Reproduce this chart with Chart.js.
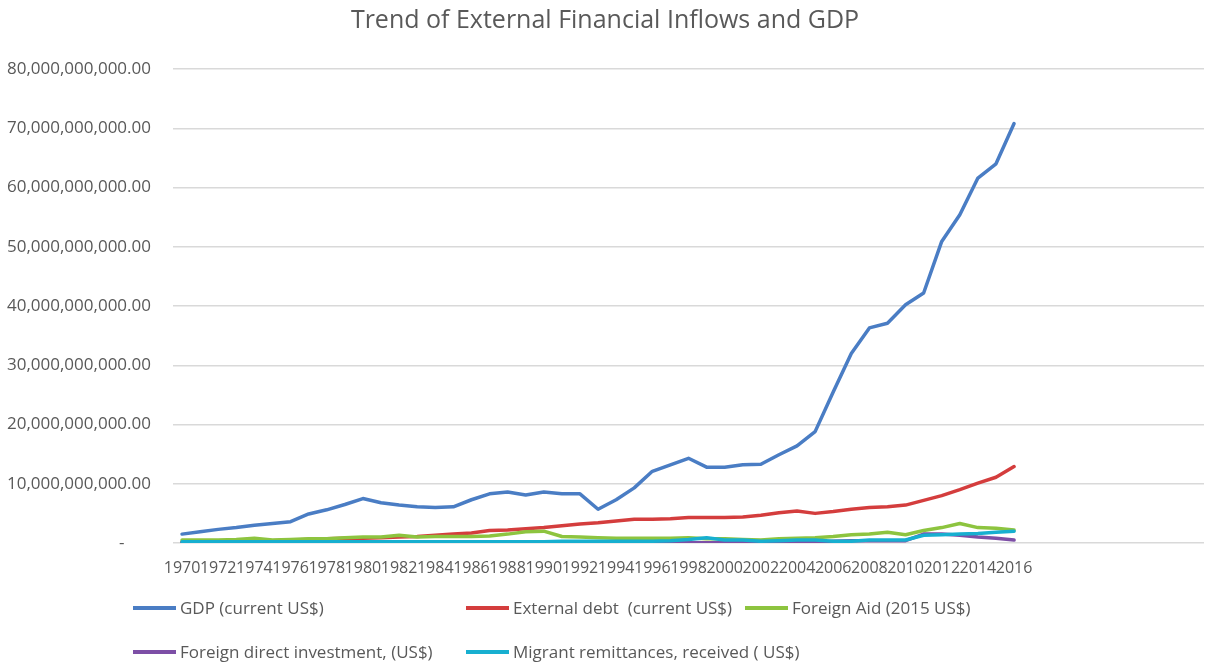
<!DOCTYPE html>
<html>
<head>
<meta charset="utf-8">
<script src="https://cdn.jsdelivr.net/npm/chart.js@4.4.1/dist/chart.umd.min.js"></script>
<style>
  html, body { margin: 0; padding: 0; background: #fff; }
  #wrap { position: relative; width: 1225px; height: 664px; }
  #legend { position: absolute; left: 0; top: 0; width: 1225px; height: 664px; pointer-events: none;
    font-family: "Open Sans", sans-serif; font-size: 17px; color: #595959; }
  .item { position: absolute; display: flex; align-items: center; white-space: pre; }
  .swatch { width: 43px; height: 4px; margin-right: 4px; }
</style>
</head>
<body>
<div id="wrap">
  <canvas id="chart" width="1225" height="664"></canvas>
  <div id="legend"></div>
</div>
<script>
/* ===== DATA (billions of US$) ===== */
const years = [
  "1970","1971","1972","1973","1974","1975","1976","1977","1978","1979",
  "1980","1981","1982","1983","1984","1985","1986","1987","1988","1989",
  "1990","1991","1992","1993","1994","1995","1996","1997","1998","1999",
  "2000","2001","2002","2003","2004","2005","2006","2007","2008","2009",
  "2010","2011","2012","2013","2014","2015","2016"
];
// empty categories Excel left on the axis after 2016
const blankYears = ["","","","","","","","","",""];

const gdp = [
  1.5, 1.9, 2.3, 2.6, 3.0, 3.3, 3.6, 4.9, 5.6, 6.5,
  7.5, 6.8, 6.4, 6.1, 6.0, 6.1, 7.3, 8.3, 8.6, 8.1,
  8.6, 8.3, 8.3, 5.7, 7.3, 9.3, 12.1, 13.2, 14.3, 12.8,
  12.8, 13.2, 13.3, 14.9, 16.4, 18.8, 25.5, 32.0, 36.3, 37.1,
  40.2, 42.2, 50.9, 55.4, 61.6, 64.0, 70.8
];
const externalDebt = [
  0.2, 0.2, 0.2, 0.3, 0.3, 0.4, 0.5, 0.6, 0.7, 0.8,
  0.8, 0.9, 1.0, 1.1, 1.3, 1.5, 1.7, 2.1, 2.2, 2.4,
  2.6, 2.9, 3.2, 3.4, 3.7, 4.0, 4.0, 4.1, 4.3, 4.3,
  4.3, 4.4, 4.7, 5.1, 5.4, 5.0, 5.3, 5.7, 6.0, 6.1,
  6.4, 7.2, 8.0, 9.0, 10.1, 11.1, 12.9
];
const foreignAid = [
  0.5, 0.5, 0.5, 0.6, 0.8, 0.5, 0.6, 0.7, 0.7, 0.9,
  1.0, 1.0, 1.3, 1.0, 1.1, 1.1, 1.1, 1.2, 1.5, 1.9,
  2.0, 1.1, 1.0, 0.9, 0.8, 0.8, 0.8, 0.8, 0.9, 0.7,
  0.7, 0.6, 0.5, 0.7, 0.8, 0.9, 1.1, 1.4, 1.5, 1.8,
  1.4, 2.1, 2.6, 3.3, 2.6, 2.5, 2.2
];
const fdi = [
  0.05, 0.05, 0.05, 0.05, 0.05, 0.05, 0.05, 0.05, 0.05, 0.05,
  0.05, 0.05, 0.05, 0.05, 0.05, 0.05, 0.05, 0.05, 0.05, 0.05,
  0.05, 0.05, 0.05, 0.05, 0.05, 0.05, 0.05, 0.05, 0.05, 0.05,
  0.05, 0.05, 0.05, 0.05, 0.1, 0.1, 0.3, 0.4, 0.4, 0.4,
  0.4, 1.5, 1.5, 1.3, 1.0, 0.8, 0.5
];
const remittances = [
  0.2, 0.2, 0.2, 0.2, 0.2, 0.2, 0.2, 0.2, 0.2, 0.2,
  0.2, 0.2, 0.2, 0.2, 0.2, 0.2, 0.2, 0.2, 0.2, 0.2,
  0.2, 0.3, 0.3, 0.3, 0.3, 0.3, 0.3, 0.4, 0.6, 0.9,
  0.5, 0.5, 0.3, 0.4, 0.5, 0.5, 0.3, 0.3, 0.5, 0.5,
  0.5, 1.3, 1.4, 1.5, 1.6, 1.8, 2.0
];

const seriesNames = [
  "GDP (current US$)",
  "External debt  (current US$)",
  "Foreign Aid (2015 US$)",
  "Foreign direct investment, (US$)",
  "Migrant remittances, received ( US$)"
];
const seriesColors = ["#4a7dc4", "#d43d3d", "#8dc43f", "#7d4fa6", "#17afd0"];
const seriesData = [gdp, externalDebt, foreignAid, fdi, remittances];

const BILLION = 1e9;
const FONT = "'Open Sans', sans-serif";

/* ===== CHART ===== */
const datasets = seriesData.map((arr, i) => ({
  label: seriesNames[i],
  data: arr.map(v => v * BILLION),
  borderColor: seriesColors[i],
  backgroundColor: seriesColors[i],
  borderWidth: 3.5,
  pointRadius: 0,
  tension: 0,
  borderJoinStyle: "round",
  borderCapStyle: "round",
  order: seriesData.length - i
}));

new Chart(document.getElementById("chart"), {
  type: "line",
  data: { labels: years.concat(blankYears), datasets: datasets },
  options: {
    responsive: false,
    animation: false,
    layout: { padding: { left: 6, right: 21, top: 0, bottom: 91 } },
    plugins: {
      legend: { display: false },
      tooltip: { enabled: false },
      title: {
        display: true,
        text: "Trend of External Financial Inflows and GDP",
        color: "#595959",
        font: { family: FONT, size: 25, weight: "normal" },
        padding: { top: 6, bottom: 33 }
      }
    },
    scales: {
      x: {
        type: "category",
        offset: true,
        grid: { display: false },
        border: { display: false },
        afterFit: s => { s.height = 30; },
        ticks: {
          autoSkip: false,
          maxRotation: 0,
          minRotation: 0,
          padding: 8,
          color: "#595959",
          font: { family: FONT, size: 16 },
          callback: function (val, idx) {
            const lab = this.getLabelForValue(val);
            return (idx % 2 === 0) ? lab : "";
          }
        }
      },
      y: {
        min: 0,
        max: 80 * BILLION,
        afterFit: s => { s.width = 167; },
        grid: { color: "#d9d9d9", lineWidth: 1.5, drawTicks: false },
        border: { display: false },
        ticks: {
          stepSize: 10 * BILLION,
          padding: 22,
          color: "#595959",
          font: { family: FONT, size: 17 },
          callback: v => v === 0 ? "-      " :
            v.toLocaleString("en-US", { minimumFractionDigits: 2, maximumFractionDigits: 2 })
        }
      }
    }
  }
});

/* ===== LEGEND ===== */
const legendSpots = [[133, 608], [466, 608], [745, 608], [133, 652], [466, 652]];
const legend = document.getElementById("legend");
seriesNames.forEach((name, i) => {
  const el = document.createElement("div");
  el.className = "item";
  el.style.left = legendSpots[i][0] + "px";
  el.style.top = (legendSpots[i][1] - 12) + "px";
  el.innerHTML = `<span class="swatch" style="background:${seriesColors[i]}"></span><span>${name}</span>`;
  legend.appendChild(el);
});
</script>
</body>
</html>
